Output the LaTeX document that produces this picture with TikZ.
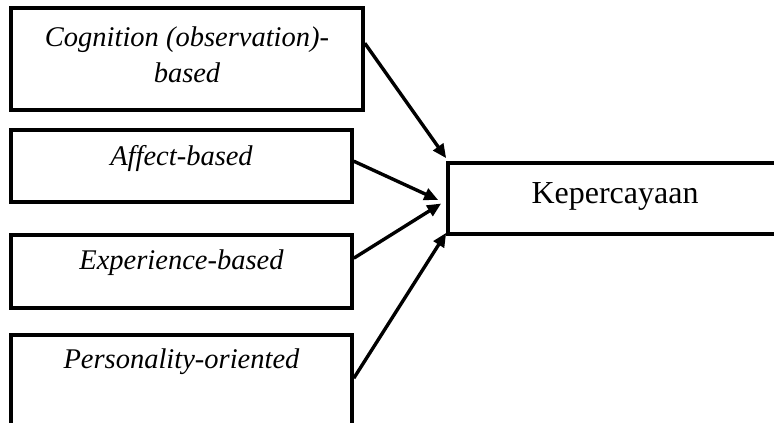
\documentclass[tikz,border=0pt]{standalone}
\usepackage{fontspec}
\setmainfont{Liberation Serif}
\usetikzlibrary{arrows.meta}
\begin{document}
\begin{tikzpicture}[x=1pt,y=-1pt,
  boxst/.style={draw, line width=3.6pt, rectangle, inner sep=0pt},
  lbl/.style={font=\fontsize{28.5}{36}\selectfont\itshape, align=center, inner sep=0pt},
  conn/.style={line width=3.4pt, -{Triangle[length=14pt,width=12pt]}}]
\path[use as bounding box, clip] (0,0) rectangle (774,423);
\node[boxst, minimum width=352pt, minimum height=102pt] (b1) at (187,59) {};
\node[boxst, minimum width=341pt, minimum height=72pt] (b2) at (181.5,166) {};
\node[boxst, minimum width=341pt, minimum height=73pt] (b3) at (181.5,271.5) {};
\node[boxst, minimum width=341pt, minimum height=100pt] (b4) at (181.5,385) {};
\node[boxst, minimum width=334pt, minimum height=71pt] (k) at (615,198.5) {};
\node[lbl] (t1) at ([yshift=4pt]b1.center) {Cognition (observation)-\\based};
\node[lbl] (t2) at ([yshift=8pt]b2.center) {Affect-based};
\node[lbl] (t3) at ([yshift=8.5pt]b3.center) {Experience-based};
\node[lbl] (t4) at ([yshift=-28pt]b4.north) {Personality-oriented};
\node[font=\fontsize{32}{38}\selectfont, inner sep=0pt] (tk) at ([yshift=2pt]k.center) {Kepercayaan};
\draw[conn] ([yshift=-37pt]b1.north east) -- ([yshift=3pt]k.north west);
\draw[conn] ([yshift=-33pt]b2.north east) -- ([xshift=-8pt,yshift=-1.5pt]k.west);
\draw[conn] ([yshift=-25pt]b3.north east) -- ([xshift=-5pt,yshift=-5pt]k.west);
\draw[conn] ([yshift=-45pt]b4.north east) -- ([yshift=3pt]k.south west);
\end{tikzpicture}
\end{document}
